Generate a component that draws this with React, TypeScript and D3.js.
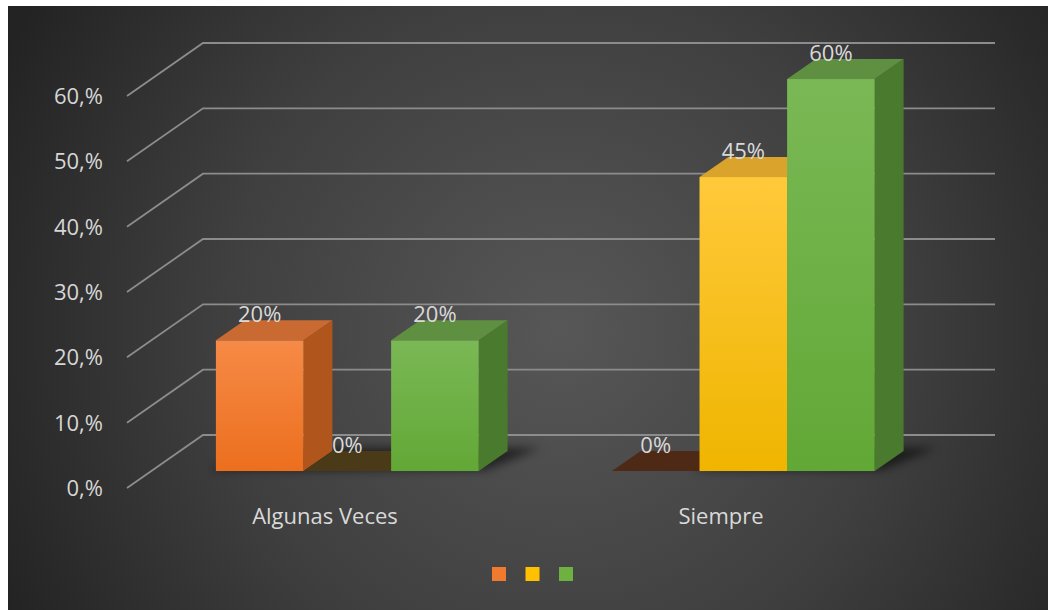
import React from "react";
import * as d3 from "d3";

const categories = ["Algunas Veces", "Siempre"];
const seriesNames = ["Serie 1", "Serie 2", "Serie 3"];
const orangeValues = [0.2, 0.0];
const yellowValues = [0.0, 0.45];
const greenValues = [0.2, 0.6];
const yTicks = [0, 0.1, 0.2, 0.3, 0.4, 0.5, 0.6];
const yTickLabels = ["0,%", "10,%", "20,%", "30,%", "40,%", "50,%", "60,%"];

const seriesValues = [orangeValues, yellowValues, greenValues];
const palette = [
  { top: "#c86a32", frontA: "#f68a46", frontB: "#ec6f1e", side: "#b0561c", zero: "#4e2916", legend: "#f07a2e" },
  { top: "#d9a32c", frontA: "#ffc93a", frontB: "#efb500", side: "#b98c10", zero: "#4a3a17", legend: "#ffc000" },
  { top: "#5f8f40", frontA: "#7ab855", frontB: "#62a836", side: "#4a7a2e", zero: "#2e4a1f", legend: "#6fb140" },
];

const W = 1048;
const H = 610;
const FRONT_LEFT = 127;
const FRONT_RIGHT = 919;
const DX = 76;
const DY = -53;
const T0 = 0.32;
const T1 = 0.7;

export default function App() {
  const y = d3.scaleLinear().domain([0, 0.6]).range([488, 96]);
  const x0 = d3.scaleBand<string>().domain(categories).range([FRONT_LEFT, FRONT_RIGHT]);
  const x1 = d3
    .scaleBand<string>()
    .domain(seriesNames)
    .range([0, x0.bandwidth()])
    .paddingInner(0)
    .paddingOuter(0.76);
  const P = (x: number, v: number, t: number): [number, number] => [x + DX * t, y(v) + DY * t];
  const pts = (arr: [number, number][]) => arr.map((p) => p.join(",")).join(" ");
  const fmt = d3.format(".0%");

  const bars: any[] = [];
  categories.forEach((c, ci) => {
    seriesNames.forEach((s, si) => {
      const v = seriesValues[si][ci];
      const a = (x0(c) as number) + (x1(s) as number) - 2;
      const b = a + x1.bandwidth();
      bars.push({ key: c + s, ci, si, v, a, b });
    });
  });

  return (
    <svg
      width={W}
      height={H}
      style={{ position: "absolute", left: 0, top: 0, display: "block" }}
      fontFamily="'Open Sans', sans-serif"
    >
      <defs>
        <radialGradient id="bg" cx="560" cy="330" r="620" gradientUnits="userSpaceOnUse">
          <stop offset="0" stopColor="#575757" />
          <stop offset="0.55" stopColor="#3f3f3f" />
          <stop offset="1" stopColor="#232323" />
        </radialGradient>
        {palette.map((p, i) => (
          <linearGradient key={i} id={`front${i}`} x1="0" y1="0" x2="0" y2="1">
            <stop offset="0" stopColor={p.frontA} />
            <stop offset="1" stopColor={p.frontB} />
          </linearGradient>
        ))}
        <filter id="blur" x="-50%" y="-50%" width="200%" height="200%">
          <feGaussianBlur stdDeviation="5" />
        </filter>
      </defs>
      <rect x={0} y={0} width={W} height={H} fill="#ffffff" />
      <rect x={8} y={6} width={W - 8} height={H - 6} fill="url(#bg)" />

      {/* gridlines */}
      {yTicks.map((v) => {
        const p0 = P(FRONT_LEFT, v, 0);
        const p1 = P(FRONT_LEFT, v, 1);
        const p2 = P(FRONT_RIGHT, v, 1);
        return (
          <polyline
            key={v}
            points={pts([p0, p1, p2])}
            fill="none"
            stroke="#8c8c8c"
            strokeWidth={1.8}
          />
        );
      })}

      {/* y labels */}
      {yTicks.map((v, i) => (
        <text key={v} x={103} y={y(v) + 8} textAnchor="end" fontSize={22} fill="#d6d6d6">
          {yTickLabels[i]}
        </text>
      ))}

      {/* floor shadows */}
      {categories.map((c, ci) => {
        const gb = bars.filter((b) => b.ci === ci && b.v > 0);
        if (!gb.length) return null;
        const a = d3.min(gb, (b: any) => b.a) as number;
        const b = d3.max(gb, (b: any) => b.b) as number;
        const poly = [P(a - 8, 0, T0 + 0.02), P(b + 6, 0, T0 + 0.02), P(b + 28, 0, T1 + 0.06), P(a + 10, 0, T1 + 0.06)];
        return <polygon key={c} points={pts(poly)} fill="#000" opacity={0.55} filter="url(#blur)" />;
      })}

      {/* bars */}
      {bars.map((bar) => {
        const p = palette[bar.si];
        const { a, b, v } = bar;
        if (v === 0) {
          const top = [P(a, 0, T0), P(b, 0, T0), P(b, 0, T1), P(a, 0, T1)];
          return <polygon key={bar.key} points={pts(top)} fill={p.zero} />;
        }
        const front = [P(a, v, T0), P(b, v, T0), P(b, 0, T0), P(a, 0, T0)];
        const side = [P(b, v, T0), P(b, v, T1), P(b, 0, T1), P(b, 0, T0)];
        const top = [P(a, v, T0), P(b, v, T0), P(b, v, T1), P(a, v, T1)];
        const [fx, fy] = front[0];
        const [, fy2] = front[3];
        return (
          <g key={bar.key}>
            <polygon points={pts(side)} fill={p.side} />
            <polygon points={pts(top)} fill={p.top} />
            <rect x={fx} y={fy} width={b - a} height={fy2 - fy} fill={`url(#front${bar.si})`} />
          </g>
        );
      })}

      {/* value labels */}
      {bars.map((bar) => {
        const cx = (bar.a + bar.b) / 2 + DX * T0;
        const ly = y(bar.v) + DY * T1 + 2;
        return (
          <text key={"l" + bar.key} x={cx} y={ly} textAnchor="middle" fontSize={22} fill="#d9d9d9">
            {fmt(bar.v)}
          </text>
        );
      })}

      {/* category labels */}
      {categories.map((c) => (
        <text
          key={c}
          x={(x0(c) as number) + x0.bandwidth() / 2}
          y={524}
          textAnchor="middle"
          fontSize={22}
          fill="#d9d9d9"
        >
          {c}
        </text>
      ))}

      {/* legend */}
      {seriesNames.map((s, i) => (
        <rect key={s} x={492 + i * 33.5} y={567} width={14} height={14} fill={palette[i].legend} />
      ))}
    </svg>
  );
}
